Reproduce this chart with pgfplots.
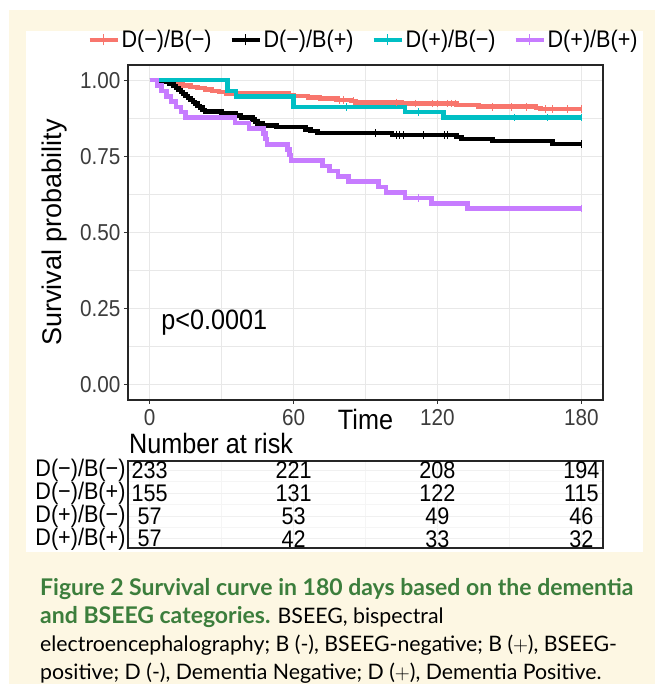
\documentclass[border=0pt]{standalone}
\usepackage{fontspec}
\usepackage{pgfplots}
\pgfplotsset{compat=1.18}
\setmainfont{Liberation Sans}
\newfontfamily\sqfont{Liberation Sans}[FakeStretch=0.9]
\newfontfamily\capfont{Lato}
\definecolor{cream}{RGB}{253,247,227}
\definecolor{kmred}{HTML}{F8766D}
\definecolor{kmteal}{HTML}{00BFC4}
\definecolor{kmpurple}{HTML}{C77CFF}
\definecolor{capgreen}{RGB}{60,126,60}
\definecolor{gridc}{RGB}{232,232,232}
\definecolor{tickc}{RGB}{60,60,60}
\begin{document}
\begin{tikzpicture}
\path[use as bounding box] (0pt,0pt) rectangle (655pt,693pt);
\fill[white] (0pt,0pt) rectangle (655pt,693pt);
\fill[cream] (9pt,9pt) rectangle (655pt,683pt);
\fill[white] (26pt,141pt) rectangle (643pt,662pt);

% ---------------- main KM plot ----------------
\begin{axis}[
  at={(128pt,293pt)}, anchor=south west,
  width=475pt, height=335pt, scale only axis,
  xmin=-9, xmax=189, ymin=-0.05, ymax=1.05,
  xtick={0,60,120,180}, xticklabels={0,60,120,180}, minor xtick={30,90,150},
  ytick={0,0.25,0.5,0.75,1}, yticklabels={0.00,0.25,0.50,0.75,1.00},
  minor ytick={0.125,0.375,0.625,0.875},
  grid=both,
  major grid style={gridc, line width=1.1pt},
  minor grid style={gridc, line width=0.6pt},
  axis line style={black!85, line width=1.6pt},
  tick align=outside, tick pos=left,
  major tick length=4pt, minor tick length=0pt,
  major tick style={black!80, line width=1pt},
  ticklabel style={font=\sqfont\fontsize{23}{23}\selectfont, text=tickc},
  xticklabel style={anchor=base, yshift=-22pt},
  ylabel={Survival probability},
  ylabel style={at={(axis description cs:-0.154,0.5)}, anchor=center, font=\fontsize{27}{27}\selectfont},
  xlabel={Time},
  xlabel style={at={(axis description cs:0.5,0)}, anchor=base, yshift=-30pt, font=\sqfont\fontsize{28}{28}\selectfont},
  legend columns=4,
  legend style={at={(axis description cs:0.496,1)}, anchor=center, yshift=25pt,
    draw=none, fill=none, inner sep=0pt,
    font=\sqfont\fontsize{24}{24}\selectfont,
    /tikz/every even column/.append style={column sep=16pt}},
  legend image code/.code={
    \draw[#1, line width=4pt] (0pt,0pt) -- (28pt,0pt);
    \draw[#1, line width=1.2pt] (14pt,-5.5pt) -- (14pt,5.5pt);},
]
\addplot[const plot, kmred, line width=4.5pt] coordinates {
(0,1.000)(5,0.996)(8,0.991)(11,0.987)(14,0.983)(17,0.978)(20,0.974)(23,0.970)(26,0.965)(29,0.961)(32,0.957)(58,0.952)(60,0.948)(66,0.944)(71,0.940)(78,0.935)(84,0.931)(86,0.927)(105,0.923)(128,0.918)(137,0.913)(161,0.909)(163,0.905)(180,0.905)};
\addlegendentry{D(−)/B(−)}
\addplot[const plot, black, line width=4.5pt] coordinates {
(0,1.000)(4,0.994)(8,0.987)(10,0.981)(11,0.974)(12,0.968)(13,0.961)(14,0.955)(15,0.948)(16,0.942)(17,0.935)(18,0.929)(19,0.923)(20,0.916)(21,0.910)(22,0.903)(23,0.897)(30,0.890)(36,0.884)(38,0.877)(43,0.871)(44,0.865)(45,0.858)(47,0.852)(53,0.846)(65,0.839)(67,0.833)(70,0.826)(101,0.820)(128,0.813)(130,0.807)(143,0.801)(168,0.791)(180,0.791)};
\addlegendentry{D(−)/B(+)}
\addplot[const plot, kmteal, line width=4.5pt] coordinates {
(0,1.000)(32.5,0.965)(36,0.947)(60,0.912)(106.5,0.895)(122.5,0.877)(180,0.877)};
\addlegendentry{D(+)/B(−)}
\addplot[const plot, kmpurple, line width=4.5pt] coordinates {
(0,1.000)(3,0.982)(5,0.965)(7,0.947)(9,0.930)(11,0.912)(13,0.895)(15,0.877)(35.5,0.860)(41.5,0.842)(47.5,0.825)(48.3,0.807)(49,0.789)(57.5,0.772)(58.3,0.754)(59,0.737)(72,0.719)(75,0.702)(78.5,0.684)(83,0.667)(95.5,0.649)(98.5,0.632)(106.5,0.614)(117.5,0.596)(132.5,0.579)(180,0.579)};
\addlegendentry{D(+)/B(+)}
% censoring marks
\addplot[only marks, forget plot, kmred, mark=|, mark size=3.8pt, mark options={line width=1pt}] coordinates {
(79,0.935)(81,0.935)(85,0.931)(103,0.927)(111,0.923)(118,0.923)(120,0.923)(124,0.923)(126,0.923)(127.5,0.923)(143,0.913)(151,0.913)(157,0.913)(165,0.905)(168,0.905)(174,0.905)(180,0.905)};
\addplot[only marks, forget plot, black, mark=|, mark size=3.8pt, mark options={line width=1pt}] coordinates {
(94,0.826)(103,0.820)(104,0.820)(106,0.820)(114,0.820)(123,0.820)(124,0.820)(180,0.791)};
\addplot[only marks, forget plot, kmteal, mark=|, mark size=3.8pt, mark options={line width=1pt}] coordinates {
(82,0.912)(112,0.895)(152,0.877)(166,0.877)(180,0.877)};
\addplot[only marks, forget plot, kmpurple, mark=|, mark size=3.8pt, mark options={line width=1pt}] coordinates {
(112,0.614)(180,0.579)};
\node[font=\sqfont\fontsize{28}{28}\selectfont, anchor=center] at (axis cs:27,0.204) {p<0.0001};
\end{axis}

\node[anchor=west, inner sep=0pt, font=\sqfont\fontsize{28}{28}\selectfont] at (129pt,250pt) {Number at risk};

% ---------------- risk table ----------------
\begin{axis}[
  at={(128pt,145pt)}, anchor=south west,
  width=475pt, height=87pt, scale only axis,
  xmin=-9, xmax=189, ymin=0.6, ymax=4.4,
  xtick={0,60,120,180}, minor xtick={30,90,150}, xticklabels={},
  ytick={1,2,3,4}, yticklabels={D(+)/B(+),D(+)/B(−),D(−)/B(+),D(−)/B(−)},
  minor ytick={1.5,2.5,3.5},
  grid=both,
  major grid style={black!6, line width=0.8pt},
  minor grid style={black!4, line width=0.5pt},
  axis line style={black!85, line width=1.6pt},
  major tick length=0pt, minor tick length=0pt,
  yticklabel style={font=\sqfont\fontsize{24}{24}\selectfont, text=black, xshift=1pt},
]
\addplot[draw=none, nodes near coords, point meta=explicit symbolic,
  nodes near coords align=center,
  every node near coord/.append style={font=\sqfont\fontsize{24}{24}\selectfont, text=black, inner sep=0pt}] coordinates {
(0,4)[233] (60,4)[221] (120,4)[208] (180,4)[194]
(0,3)[155] (60,3)[131] (120,3)[122] (180,3)[115]
(0,2)[57] (60,2)[53] (120,2)[49] (180,2)[46]
(0,1)[57] (60,1)[42] (120,1)[33] (180,1)[32]};
\end{axis}

% ---------------- caption ----------------
\node[anchor=base west, inner sep=0pt, font=\capfont\bfseries\fontsize{23}{23}\selectfont, text=capgreen] at (40pt,97pt) {Figure 2 Survival curve in 180 days based on the dementia};
\node[anchor=base west, inner sep=0pt, font=\capfont\fontsize{21.3}{21.3}\selectfont] at (40pt,69pt) {\textcolor{capgreen}{\bfseries\fontsize{23}{23}\selectfont and BSEEG categories.} BSEEG, bispectral};
\node[anchor=base west, inner sep=0pt, font=\capfont\fontsize{21.3}{21.3}\selectfont] at (40pt,41pt) {electroencephalography; B (-), BSEEG-negative; B ($+$), BSEEG-};
\node[anchor=base west, inner sep=0pt, font=\capfont\fontsize{21.3}{21.3}\selectfont] at (40pt,13pt) {positive; D (-), Dementia Negative; D ($+$), Dementia Positive.};
\end{tikzpicture}
\end{document}
